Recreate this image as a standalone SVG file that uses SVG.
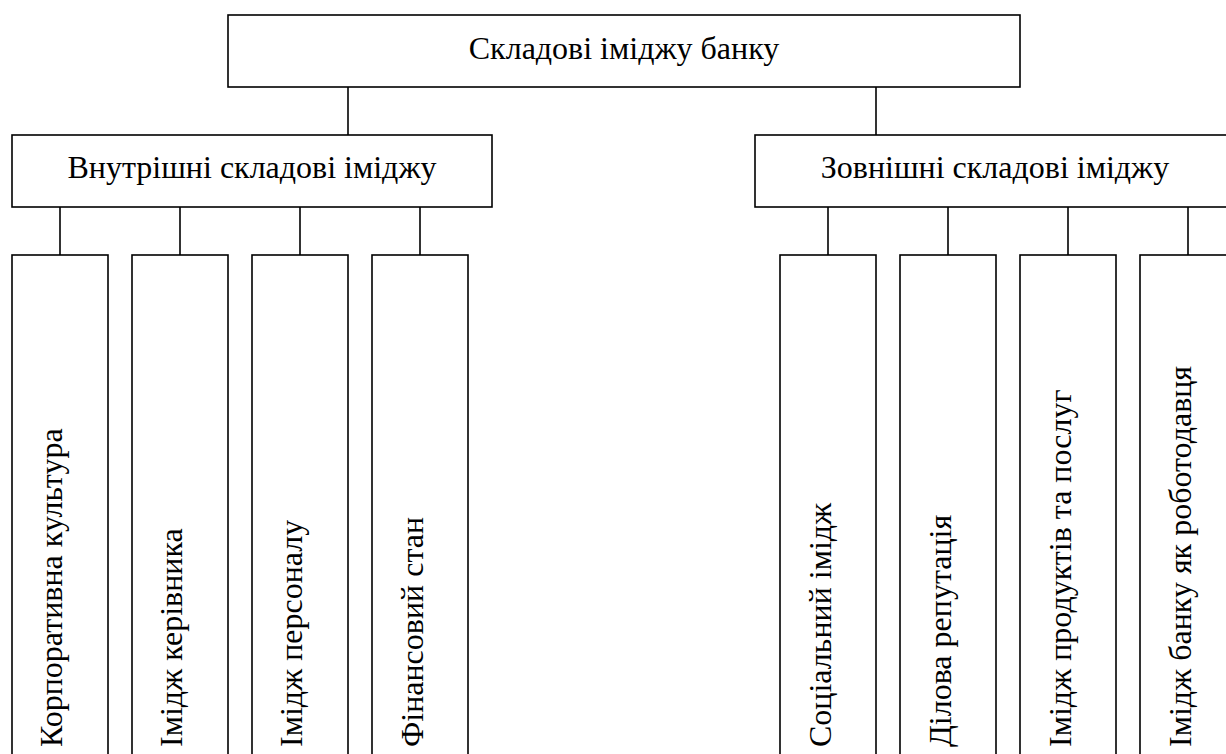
<svg xmlns="http://www.w3.org/2000/svg" width="1226" height="754" viewBox="0 0 1226 754">
<style>
.box{fill:#fff;stroke:#000;stroke-width:1.6}
.ln{stroke:#000;stroke-width:1.6;fill:none}
.t{font-family:"Liberation Serif","Times New Roman",serif;font-size:32px;fill:#000}
.c{text-anchor:middle}
</style>
<rect width="1226" height="754" fill="#fff"/>
<g id="connectors">
<line class="ln" x1="348" y1="87" x2="348" y2="135"/>
<line class="ln" x1="876" y1="87" x2="876" y2="135"/>
<line class="ln" x1="60" y1="207" x2="60" y2="255"/>
<line class="ln" x1="180" y1="207" x2="180" y2="255"/>
<line class="ln" x1="300" y1="207" x2="300" y2="255"/>
<line class="ln" x1="420" y1="207" x2="420" y2="255"/>
<line class="ln" x1="828" y1="207" x2="828" y2="255"/>
<line class="ln" x1="948" y1="207" x2="948" y2="255"/>
<line class="ln" x1="1068" y1="207" x2="1068" y2="255"/>
<line class="ln" x1="1188" y1="207" x2="1188" y2="255"/>
</g>
<g id="root">
<rect class="box" x="228" y="15" width="792" height="72"/>
<text class="t c" x="624" y="59">Складові іміджу банку</text>
</g>
<g id="internal">
<rect class="box" x="12" y="135" width="480" height="72"/>
<text class="t c" x="252" y="178">Внутрішні складові іміджу</text>
</g>
<g id="external">
<rect class="box" x="755" y="135" width="480" height="72"/>
<text class="t c" x="995" y="178">Зовнішні складові іміджу</text>
</g>
<g id="corp-culture">
<rect class="box" x="12" y="255" width="96" height="520"/>
<text class="t" transform="translate(62,747) rotate(-90)">Корпоративна культура</text>
</g>
<g id="leader-image">
<rect class="box" x="132" y="255" width="96" height="520"/>
<text class="t" transform="translate(182,747) rotate(-90)">Імідж керівника</text>
</g>
<g id="staff-image">
<rect class="box" x="252" y="255" width="96" height="520"/>
<text class="t" transform="translate(302,747) rotate(-90)">Імідж персоналу</text>
</g>
<g id="financial">
<rect class="box" x="372" y="255" width="96" height="520"/>
<text class="t" transform="translate(423,747) rotate(-90)">Фінансовий стан</text>
</g>
<g id="social-image">
<rect class="box" x="780" y="255" width="96" height="520"/>
<text class="t" transform="translate(831,747) rotate(-90)">Соціальний імідж</text>
</g>
<g id="business-reputation">
<rect class="box" x="900" y="255" width="96" height="520"/>
<text class="t" transform="translate(951,747) rotate(-90)">Ділова репутація</text>
</g>
<g id="products-image">
<rect class="box" x="1020" y="255" width="96" height="520"/>
<text class="t" transform="translate(1071,747) rotate(-90)">Імідж продуктів та послуг</text>
</g>
<g id="employer-image">
<rect class="box" x="1140" y="255" width="96" height="520"/>
<text class="t" transform="translate(1191,747) rotate(-90)">Імідж банку як роботодавця</text>
</g>
</svg>
